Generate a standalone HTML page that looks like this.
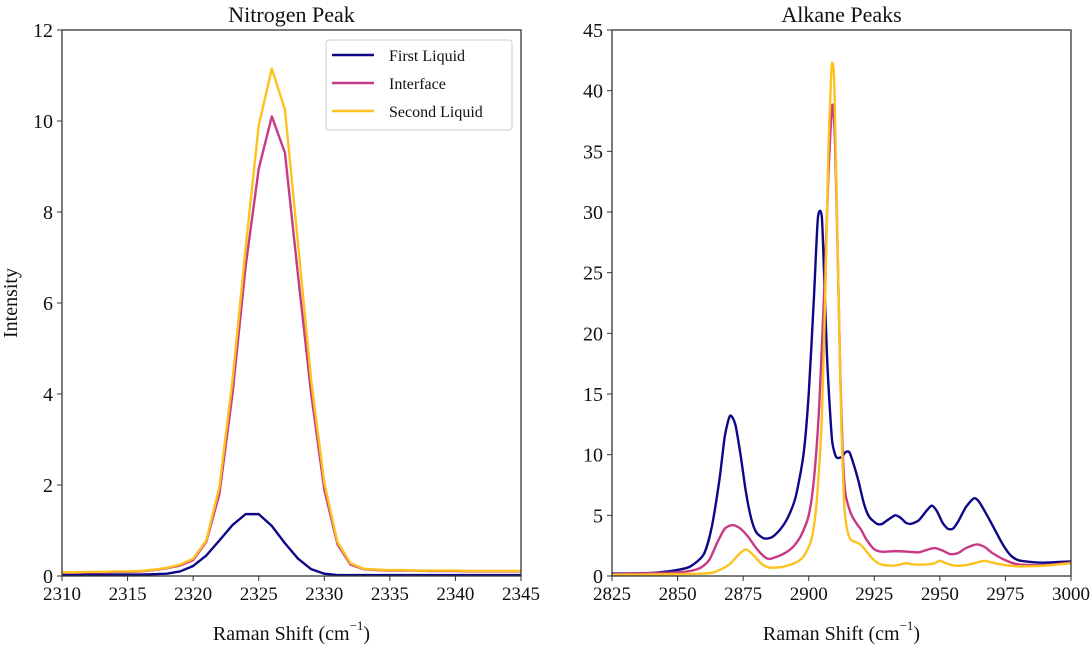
<!DOCTYPE html>
<html><head><meta charset="utf-8"><style>
html,body{margin:0;padding:0;background:#fff;}
svg{display:block;font-family:"Liberation Serif",serif;}
</style></head><body>
<svg id="chart" width="1092" height="646" viewBox="0 0 1092 646">
<g id="left"></g>
<g id="right"></g>
</svg>
<script>
// Nitrogen peak data
const n2X = [2310,2311,2312,2313,2314,2315,2316,2317,2318,2319,2320,2321,2322,2323,2324,2325,2326,2327,2328,2329,2330,2331,2332,2333,2334,2335,2336,2337,2338,2339,2340,2341,2342,2343,2344,2345];
const n2First = [0.03,0.03,0.03,0.03,0.03,0.03,0.03,0.04,0.05,0.1,0.22,0.45,0.78,1.12,1.36,1.36,1.1,0.72,0.38,0.15,0.05,0.02,0.02,0.02,0.02,0.02,0.02,0.02,0.02,0.02,0.02,0.02,0.02,0.02,0.02,0.02];
const n2Interface = [0.07,0.07,0.08,0.08,0.09,0.09,0.1,0.13,0.17,0.23,0.35,0.75,1.8,4.0,6.8,8.95,10.1,9.3,6.6,4.0,1.9,0.7,0.25,0.15,0.13,0.12,0.12,0.12,0.11,0.11,0.11,0.1,0.1,0.1,0.1,0.1];
const n2Second = [0.08,0.08,0.09,0.09,0.1,0.1,0.11,0.14,0.18,0.25,0.38,0.78,1.95,4.3,7.2,9.9,11.15,10.25,7.3,4.3,2.05,0.75,0.28,0.16,0.14,0.13,0.13,0.12,0.12,0.12,0.12,0.11,0.11,0.11,0.11,0.11];
const n2XTicks = [2310,2315,2320,2325,2330,2335,2340,2345];
const n2YTicks = [0,2,4,6,8,10,12];

// Alkane peaks data
const alkFirstX = [2825,2840,2850,2855,2860,2863,2866,2868,2870,2872,2874,2876,2878,2880,2883,2886,2889,2892,2895,2898,2900,2902,2903.5,2905,2906,2907,2908,2909,2910.5,2912.5,2914,2915.5,2917,2919,2921,2923,2926,2928,2930,2933,2935,2937,2939,2942,2945,2947,2949,2951,2953,2955,2957,2960,2963,2965,2968,2971,2974,2977,2980,2985,2990,3000];
const alkFirstY = [0.2,0.25,0.5,0.8,1.8,4,8,11.5,13.2,12.5,10,7,4.8,3.6,3.1,3.2,3.8,4.8,6.5,10,15,23,29.5,29.6,24,18,14,11,9.8,9.8,10.2,10.2,9.3,7.8,6.0,4.9,4.3,4.3,4.6,5.0,4.8,4.4,4.3,4.6,5.4,5.8,5.3,4.4,3.9,3.9,4.5,5.7,6.4,6.1,5.0,3.8,2.6,1.7,1.3,1.15,1.1,1.2];
const alkInterX = [2825,2850,2858,2862,2865,2868,2871,2874,2877,2880,2883,2885,2888,2891,2894,2897,2900,2902,2904,2906,2907.5,2909,2910,2911,2912,2913,2914,2916,2918,2920,2922,2925,2928,2933,2938,2942,2945,2948,2951,2954,2957,2960,2964,2967,2970,2975,2980,2990,3000];
const alkInterY = [0.15,0.3,0.6,1.3,2.7,3.9,4.2,3.9,3.2,2.3,1.6,1.4,1.6,1.9,2.4,3.3,5,8,14,24,33,38.8,36,27,17,10,6.8,5.2,4.4,3.8,3.0,2.2,2.0,2.05,2.0,1.95,2.15,2.3,2.1,1.8,1.9,2.3,2.6,2.4,1.9,1.3,0.95,0.9,1.1];
const alkSecondX = [2825,2860,2866,2870,2873,2876,2879,2882,2885,2890,2895,2898,2901,2903,2905,2906.5,2907.5,2908.5,2909,2909.7,2910.5,2911.5,2912.5,2913.5,2914.5,2916,2919,2921,2924,2927,2931,2934,2937,2940,2945,2948,2950,2953,2956,2960,2964,2967,2970,2975,2980,2990,3000];
const alkSecondY = [0.1,0.2,0.5,1.0,1.7,2.2,1.7,1.0,0.7,0.75,1.1,1.6,3,6,13,25,35,41,42.3,41,33,22,12,6,4,3.0,2.7,2.3,1.5,1.0,0.85,0.9,1.05,0.95,0.95,1.05,1.25,1.0,0.85,0.9,1.1,1.25,1.1,0.9,0.8,0.85,1.05];
const alkXTicks = [2825,2850,2875,2900,2925,2950,2975,3000];
const alkYTicks = [0,5,10,15,20,25,30,35,40,45];

const NS = "http://www.w3.org/2000/svg";
const C_FIRST = "#0d0887", C_INTER = "#c73a86", C_SECOND = "#fcc21f";
function mk(tag, attrs, parent){ const e=document.createElementNS(NS,tag); for(const k in attrs) e.setAttribute(k,attrs[k]); parent.appendChild(e); return e; }

function smoothPath(P){
  let d="M"+P[0][0].toFixed(2)+","+P[0][1].toFixed(2);
  for(let i=0;i<P.length-1;i++){
    const p0=P[i-1]||P[i], p1=P[i], p2=P[i+1], p3=P[i+2]||P[i+1];
    const t=0.12;
    let c1x=p1[0]+(p2[0]-p0[0])*t, c1y=p1[1]+(p2[1]-p0[1])*t;
    let c2x=p2[0]-(p3[0]-p1[0])*t, c2y=p2[1]-(p3[1]-p1[1])*t;
    d+=" C"+c1x.toFixed(2)+","+c1y.toFixed(2)+" "+c2x.toFixed(2)+","+c2y.toFixed(2)+" "+p2[0].toFixed(2)+","+p2[1].toFixed(2);
  }
  return d;
}

function panel(g, x0, x1, y0, y1, xmin, xmax, ymin, ymax, xt, yt, series, title, prefix, smooth){
  const sx = v => x0 + (v-xmin)/(xmax-xmin)*(x1-x0);
  const sy = v => y0 - (v-ymin)/(ymax-ymin)*(y0-y1);
  series.forEach(s=>{
    const P = s.x.map((xv,i)=>[sx(xv),sy(s.y[i])]);
    let p;
    if(smooth){
      p = mk("path",{d:smoothPath(P),fill:"none",stroke:s.c,"stroke-width":2.4,"stroke-linejoin":"round"},g);
    } else {
      p = mk("polyline",{points:P.map(q=>q[0].toFixed(2)+","+q[1].toFixed(2)).join(" "),fill:"none",stroke:s.c,"stroke-width":2.4,"stroke-linejoin":"round"},g);
    }
    
    
  });
  const fr = mk("rect",{x:x0,y:y1,width:x1-x0,height:y0-y1,fill:"none",stroke:"#333","stroke-width":1.3},g);
  
  
  xt.forEach(v=>{
    const X=sx(v);
    mk("line",{x1:X,x2:X,y1:y0,y2:y0+5,stroke:"#333","stroke-width":1},g);
    const t=mk("text",{x:X,y:y0+24,"text-anchor":"middle","font-size":19,fill:"#111"},g);
    t.textContent=v;
    
    
  });
  yt.forEach(v=>{
    const Y=sy(v);
    mk("line",{x1:x0-5,x2:x0,y1:Y,y2:Y,stroke:"#333","stroke-width":1},g);
    const t=mk("text",{x:x0-9,y:Y+7,"text-anchor":"end","font-size":20,fill:"#111"},g);
    t.textContent=v;
    
    
  });
  const tt=mk("text",{x:(x0+x1)/2,y:22,"text-anchor":"middle","font-size":22,fill:"#111"},g);
  tt.textContent=title;
  
  
  const xl=mk("text",{x:(x0+x1)/2,y:640,"text-anchor":"middle","font-size":20,fill:"#111"},g);
  xl.innerHTML='Raman Shift (cm<tspan dy="-10" font-size="13">−1</tspan><tspan dy="10">)</tspan>';
  
  
}

const L=document.getElementById("left"), R=document.getElementById("right");
panel(L,62,521,576,30,2310,2345,0,12,n2XTicks,n2YTicks,[
  {x:n2X,y:n2First,c:C_FIRST,n:"first-liquid"},
  {x:n2X,y:n2Interface,c:C_INTER,n:"interface"},
  {x:n2X,y:n2Second,c:C_SECOND,n:"second-liquid"}],"Nitrogen Peak","nitrogen",false);
panel(R,612,1071,576,30,2825,3000,0,45,alkXTicks,alkYTicks,[
  {x:alkFirstX,y:alkFirstY,c:C_FIRST,n:"first-liquid"},
  {x:alkInterX,y:alkInterY,c:C_INTER,n:"interface"},
  {x:alkSecondX,y:alkSecondY,c:C_SECOND,n:"second-liquid"}],"Alkane Peaks","alkane",true);

const yl=mk("text",{x:0,y:0,"text-anchor":"middle","font-size":20,fill:"#111",transform:"translate(17,303) rotate(-90)"},L);
yl.textContent="Intensity";



// legend
const lg=mk("g",{},L);


mk("rect",{x:326,y:40,width:186,height:90,rx:3,fill:"#fff",stroke:"#ccc","stroke-width":1},lg);
[["First Liquid",C_FIRST,55],["Interface",C_INTER,83],["Second Liquid",C_SECOND,111]].forEach(e=>{
  const en=mk("g",{},lg);
  
  
  mk("line",{x1:332,x2:374,y1:e[2],y2:e[2],stroke:e[1],"stroke-width":2.4},en);
  const t=mk("text",{x:389,y:e[2]+6,"font-size":16,fill:"#111"},en);
  t.textContent=e[0];
});
</script>
</body></html>
